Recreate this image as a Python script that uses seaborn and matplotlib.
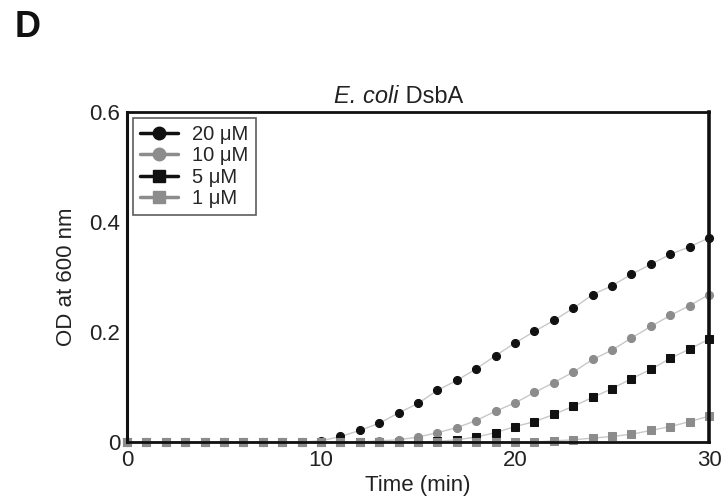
import numpy as np
import pandas as pd
import matplotlib.pyplot as plt
import seaborn as sns
from matplotlib.lines import Line2D

# time points (min)
time_min = list(range(31))

# OD at 600 nm
od_20uM = [0, 0, 0, 0, 0, 0, 0, 0, 0, 0, 0.002,
           0.010, 0.021, 0.034, 0.053, 0.070, 0.094, 0.112, 0.133, 0.157, 0.180,
           0.201, 0.221, 0.243, 0.268, 0.284, 0.305, 0.323, 0.341, 0.355, 0.371]
od_10uM = [0, 0, 0, 0, 0, 0, 0, 0, 0, 0, 0,
           0, 0, 0.002, 0.004, 0.009, 0.017, 0.026, 0.039, 0.056, 0.071,
           0.090, 0.108, 0.127, 0.150, 0.167, 0.189, 0.210, 0.230, 0.248, 0.268]
od_5uM = [0, 0, 0, 0, 0, 0, 0, 0, 0, 0, 0,
          0, 0, 0, 0, 0, 0.001, 0.004, 0.009, 0.017, 0.028,
          0.037, 0.050, 0.065, 0.081, 0.097, 0.115, 0.132, 0.152, 0.169, 0.187]
od_1uM = [0, 0, 0, 0, 0, 0, 0, 0, 0, 0, 0,
          0, 0, 0, 0, 0, 0, 0, 0, 0, 0,
          0, 0.002, 0.004, 0.007, 0.010, 0.014, 0.021, 0.028, 0.037, 0.047]

labels = ["20 \u03bcM", "10 \u03bcM", "5 \u03bcM", "1 \u03bcM"]
series = [od_20uM, od_10uM, od_5uM, od_1uM]
colors = ["#111111", "#8c8c8c", "#111111", "#8c8c8c"]
markers = ["o", "o", "s", "s"]

sns.set_style("white")
plt.rcParams["font.family"] = ["Liberation Sans", "DejaVu Sans"]

fig = plt.figure(figsize=(7.24, 4.97), dpi=100)
ax = fig.add_axes([0.1754, 0.1107, 0.8039, 0.664])

df = pd.DataFrame({"time": time_min})
for lab, vals, col, mk in zip(labels, series, colors, markers):
    df[lab] = vals
    sns.lineplot(data=df, x="time", y=lab, ax=ax, color="#c8c8c8",
                 linewidth=1.0, marker=mk, markersize=5.8 if mk == "o" else 5.2,
                 markerfacecolor=col, markeredgecolor=col, clip_on=False)

ax.set_xlim(0, 30)
ax.set_ylim(0, 0.6)
ax.set_xticks([0, 10, 20, 30])
ax.set_yticks([0, 0.2, 0.4, 0.6])
ax.set_yticklabels(["0", "0.2", "0.4", "0.6"])
ax.tick_params(axis="both", length=0, labelsize=16, colors="#222222")
ax.tick_params(axis="y", pad=5)
ax.tick_params(axis="x", pad=6)

for side, lw in [("left", 2.2), ("bottom", 2.0), ("top", 2.0), ("right", 2.6)]:
    ax.spines[side].set_visible(True)
    ax.spines[side].set_color("#111111")
    ax.spines[side].set_linewidth(lw)

ax.set_xlabel("Time (min)", fontsize=16, color="#222222", labelpad=3)
ax.set_ylabel("OD at 600 nm", fontsize=16, color="#222222", labelpad=9)

# title: italic species name followed by upright protein name
t1 = ax.text(0.356, 1.012, "E. coli", fontsize=17, fontstyle="italic",
             color="#222222", transform=ax.transAxes, ha="left", va="bottom")
ax.annotate(" DsbA", xy=(1, 0), xycoords=t1, fontsize=17, color="#222222",
            ha="left", va="bottom")

handles = [Line2D([0], [0], color=c, marker=m, markersize=9 if m == "o" else 8,
                  linewidth=2.5, markerfacecolor=c, markeredgecolor=c)
           for c, m in zip(colors, markers)]
leg = ax.legend(handles, labels, loc="upper left", fontsize=14.5,
                frameon=True, fancybox=False, handlelength=1.9,
                handletextpad=0.7, labelspacing=0.12, borderpad=0.35,
                bbox_to_anchor=(0.0, 1.0), borderaxespad=0.3)
leg.get_frame().set_edgecolor("#333333")
leg.get_frame().set_linewidth(1.2)

fig.text(0.02, 0.98, "D", fontsize=26, fontweight="bold", color="#111111",
         va="top")

fig.savefig("out.png", dpi=100)
